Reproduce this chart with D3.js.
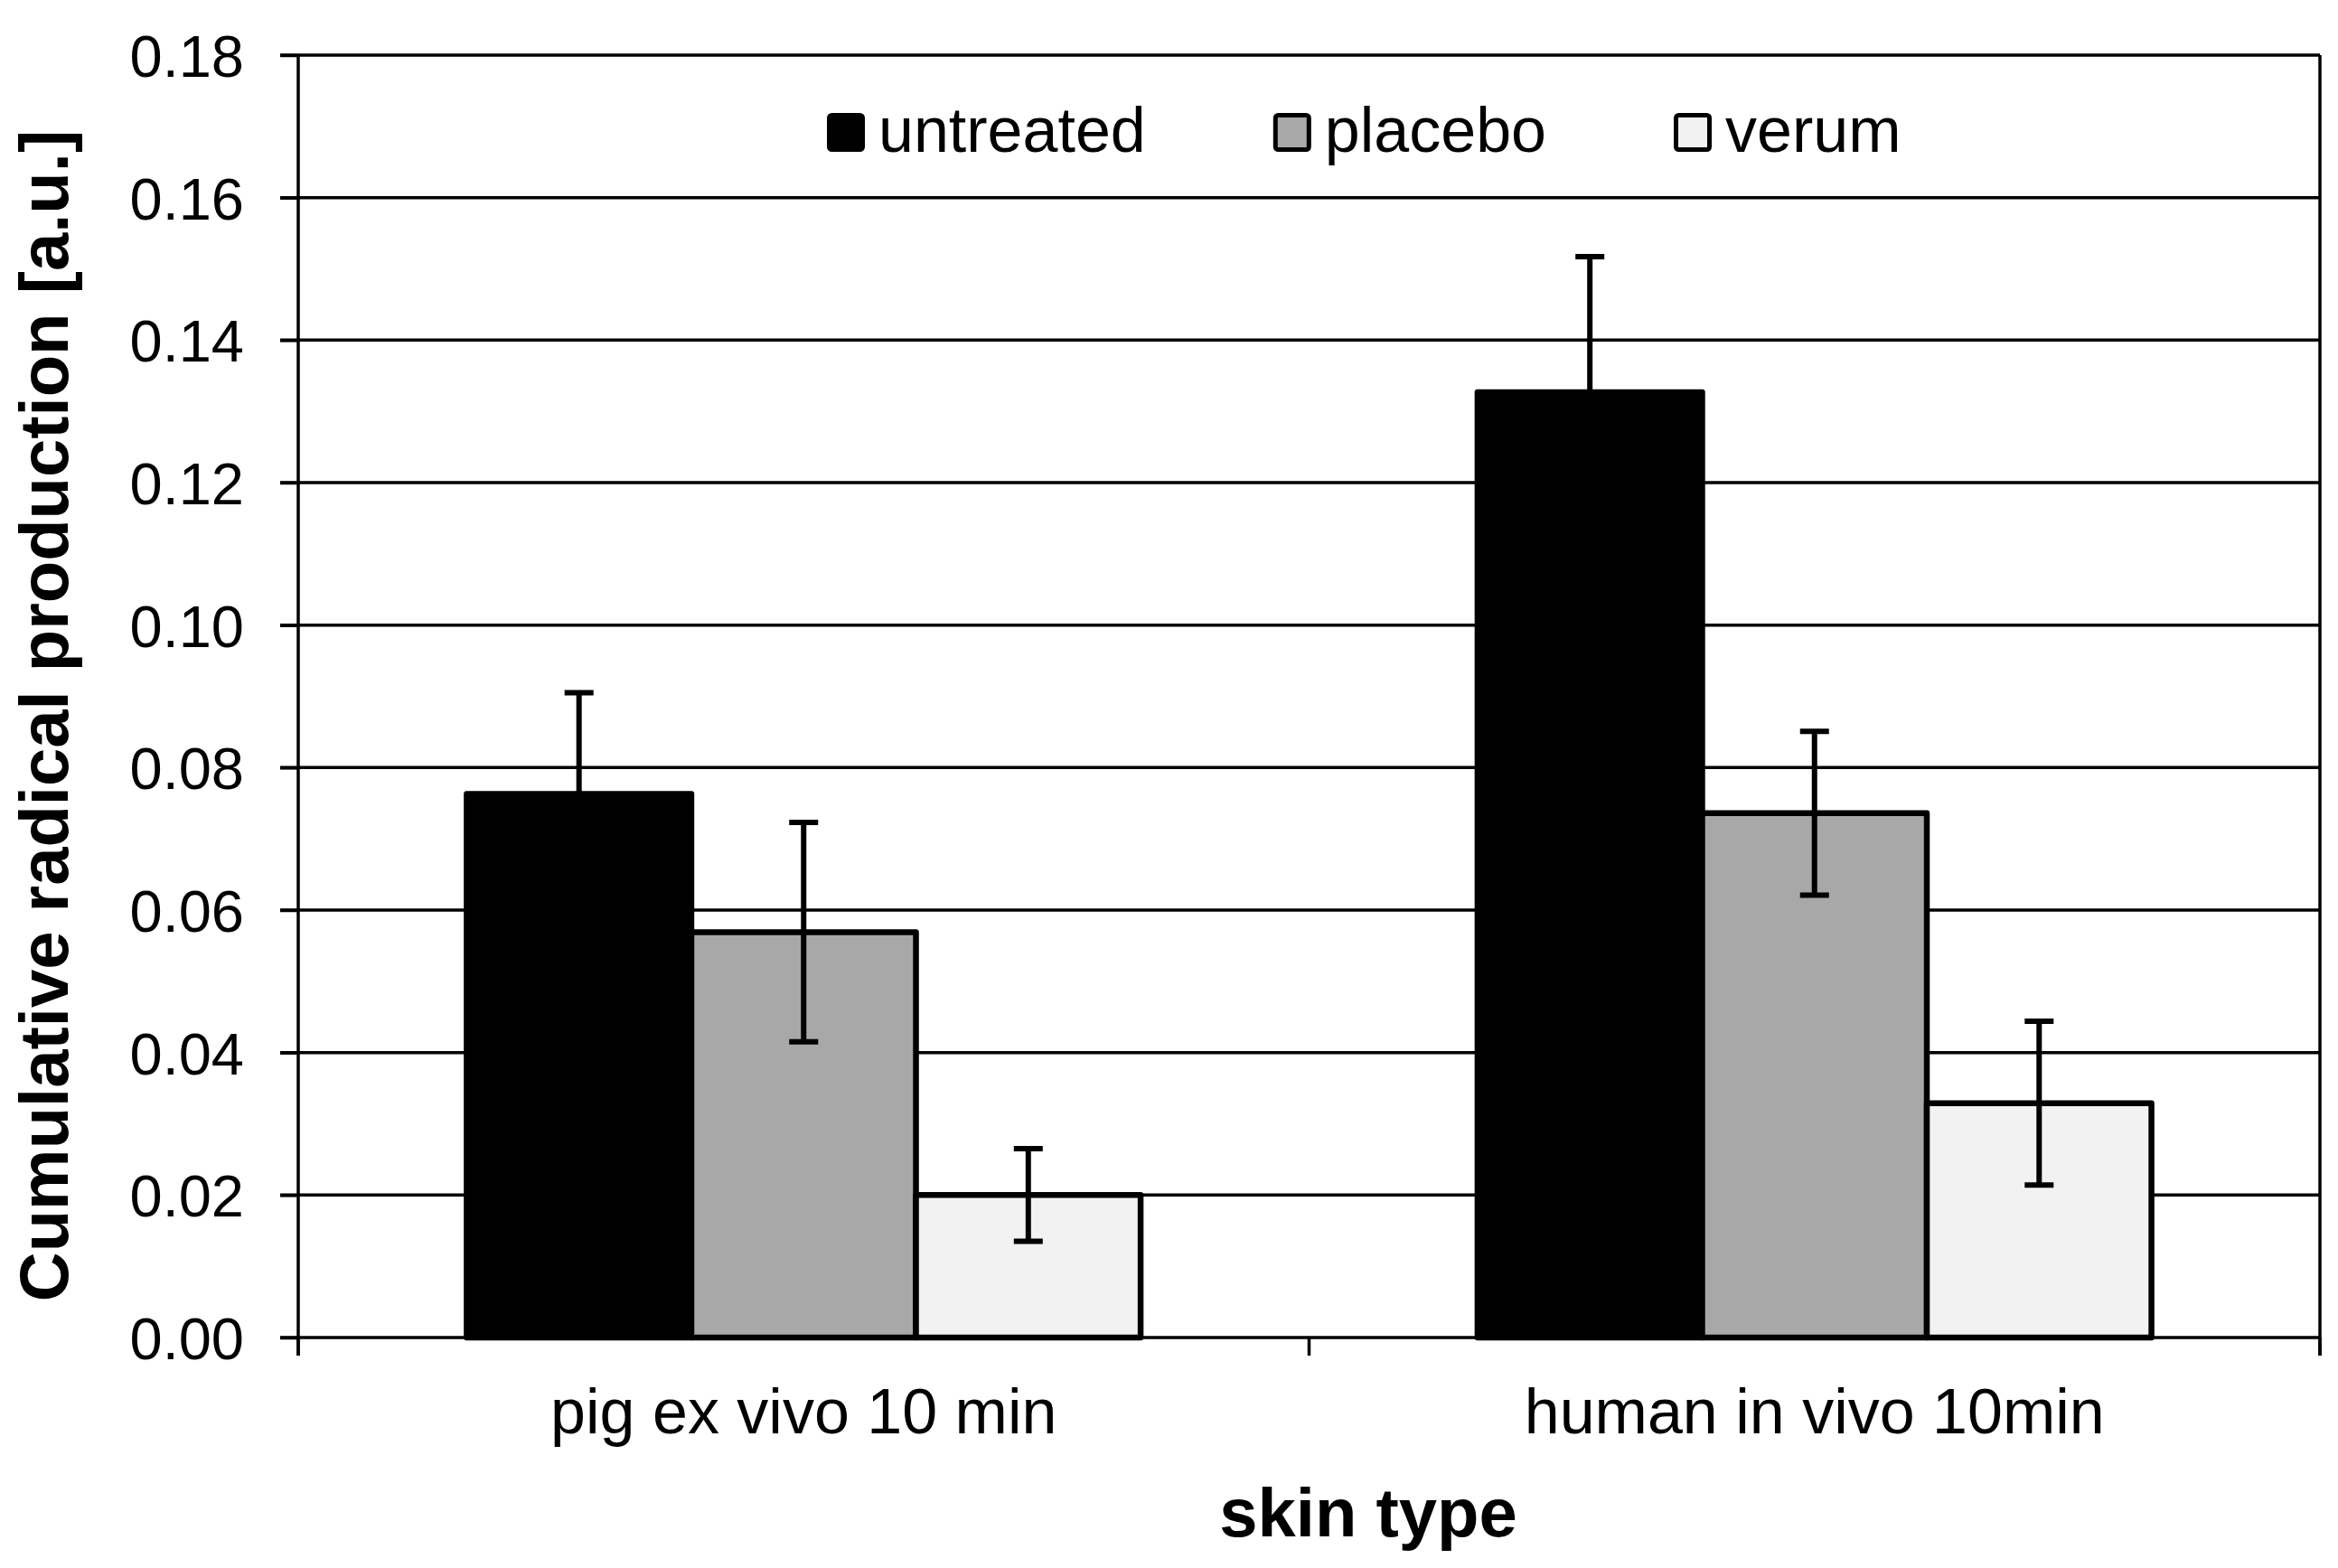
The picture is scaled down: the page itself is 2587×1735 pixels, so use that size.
<!DOCTYPE html>
<html>
<head>
<meta charset="utf-8">
<script src="https://cdn.jsdelivr.net/npm/d3@7"></script>
<style>
  html,body{margin:0;padding:0;background:#fff;}
  svg{display:block;font-family:"Liberation Sans",Arial,sans-serif;}
</style>
</head>
<body>
<svg id="chart" width="2587" height="1735"></svg>
<script>
// data
const categories = ['pig ex vivo 10 min', 'human in vivo 10min'];
const seriesNames = ['untreated', 'placebo', 'verum'];
const seriesFill = ['#000000', '#a8a8a8', '#f2f2f2'];
const untreated = [0.0763, 0.1327];
const placebo = [0.0569, 0.0736];
const verum = [0.0200, 0.0329];
const untreatedErr = [0.0142, 0.0190];
const placeboErr = [0.0154, 0.0115];
const verumErr = [0.0065, 0.0115];
const yTicks = [0, 0.02, 0.04, 0.06, 0.08, 0.10, 0.12, 0.14, 0.16, 0.18];

const values = [untreated, placebo, verum];
const errors = [untreatedErr, placeboErr, verumErr];

const svg = d3.select('#chart');
const margin = { left: 330, right: 20, top: 61, bottom: 255 };
const W = 2587, H = 1735;
const x0r = [margin.left, W - margin.right];
const y0 = H - margin.bottom;

const y = d3.scaleLinear().domain([0, 0.18]).range([y0, margin.top]);
const x0 = d3.scaleBand().domain(categories).range(x0r).padding(0);
// Excel-style gap width of 150% of a bar
const gap = 1.5;
const bw = x0.bandwidth();
const barW = bw / (seriesNames.length + gap);
const x1 = d3.scaleBand().domain(seriesNames)
  .range([barW * gap / 2, bw - barW * gap / 2]).padding(0);

// gridlines
svg.append('g').selectAll('line').data(yTicks).join('line')
  .attr('x1', x0r[0] - 20).attr('x2', x0r[1])
  .attr('y1', d => y(d)).attr('y2', d => y(d))
  .attr('stroke', '#000').attr('stroke-width', 3.5);

// right border
svg.append('line').attr('x1', x0r[1]).attr('x2', x0r[1])
  .attr('y1', y(0.18)).attr('y2', y0 + 20)
  .attr('stroke', '#000').attr('stroke-width', 3.5);

// y axis
const yAxis = d3.axisLeft(y).tickValues(yTicks).tickFormat(d3.format('.2f')).tickSize(20).tickPadding(40);
const ga = svg.append('g').attr('transform', `translate(${x0r[0]},0)`).call(yAxis);
ga.select('.domain').remove();
ga.selectAll('.tick line').attr('stroke-width', 3.5);
ga.selectAll('.tick text').attr('font-size', 65).attr('fill', '#000')
  .attr('font-family', '"Liberation Sans",Arial,sans-serif').attr('dy', '0.36em');
svg.append('line').attr('x1', x0r[0]).attr('x2', x0r[0])
  .attr('y1', y(0.18)).attr('y2', y0 + 20).attr('stroke', '#000').attr('stroke-width', 3.5);

// x axis ticks at category boundaries
const xBounds = [x0r[0]].concat(categories.map(c => x0(c) + bw));
svg.append('g').selectAll('line').data(xBounds).join('line')
  .attr('x1', d => d).attr('x2', d => d).attr('y1', y0).attr('y2', y0 + 20)
  .attr('stroke', '#000').attr('stroke-width', 3.5);

// bars
const groups = svg.append('g').selectAll('g').data(categories).join('g')
  .attr('transform', c => `translate(${x0(c)},0)`);
groups.each(function(c, ci){
  const g = d3.select(this);
  seriesNames.forEach((s, si) => {
    const v = values[si][ci];
    g.append('rect')
      .attr('x', x1(s)).attr('y', y(v))
      .attr('width', x1.bandwidth()).attr('height', y0 - y(v))
      .attr('fill', seriesFill[si]).attr('stroke', '#000').attr('stroke-width', 6.5)
      .attr('stroke-linejoin', 'round');
  });
});
// error bars
groups.each(function(c, ci){
  const g = d3.select(this);
  seriesNames.forEach((s, si) => {
    const v = values[si][ci], e = errors[si][ci];
    const cx = x1(s) + x1.bandwidth() / 2;
    const eb = g.append('g').attr('stroke', '#000').attr('stroke-width', 6);
    eb.append('line').attr('x1', cx).attr('x2', cx).attr('y1', y(v - e)).attr('y2', y(v + e));
    [v - e, v + e].forEach(t => {
      eb.append('line').attr('x1', cx - 16).attr('x2', cx + 16).attr('y1', y(t)).attr('y2', y(t));
    });
  });
});

// category labels
svg.append('g').selectAll('text').data(categories).join('text')
  .attr('x', c => x0(c) + bw / 2).attr('y', 1586)
  .attr('text-anchor', 'middle').attr('font-size', 70).text(c => c);

// axis titles
svg.append('text').attr('x', 1514).attr('y', 1700).attr('text-anchor', 'middle')
  .attr('font-size', 76).attr('font-weight', 'bold').text('skin type');
svg.append('text').attr('transform', 'translate(75,792) rotate(-90)').attr('text-anchor', 'middle')
  .attr('font-size', 76).attr('font-weight', 'bold').text('Cumulative radical production [a.u.]');

// legend
const legend = svg.append('g');
let lx = 915;
seriesNames.forEach((s, si) => {
  legend.append('rect').attr('x', lx + 2.5).attr('y', 127.5).attr('width', 37).attr('height', 38)
    .attr('rx', 3).attr('fill', seriesFill[si]).attr('stroke', '#000').attr('stroke-width', 5);
  const t = legend.append('text').attr('x', lx + 57).attr('y', 168).attr('font-size', 70)
    .attr('textLength', null).text(s);
  lx += 57 + t.node().getComputedTextLength() + 141;
});
</script>
</body>
</html>
